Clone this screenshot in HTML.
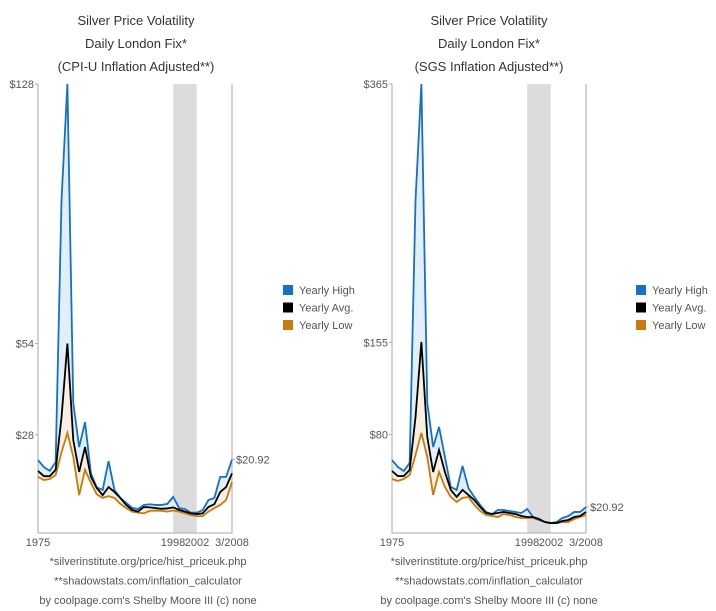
<!DOCTYPE html>
<html><head><meta charset="utf-8"><style>
body{margin:0;background:#fff;width:716px;height:611px;overflow:hidden}
svg{display:block;font-family:"Liberation Sans",sans-serif}
</style></head><body>
<svg id="c" width="716" height="611"></svg>
<script>
const years = [];
for (let y = 1975; y <= 2008; y++) years.push(y);
const cpiHigh = [20.8,18.8,17.7,20.2,95,128,37,24.5,31.6,17,13,12.3,20.5,12.3,10,8.6,7.2,6.8,8,8.2,8,8,8.3,10.3,7.1,6.8,5.8,5.8,6.5,9.4,10,16,16,20.92];
const cpiAvg = [17.7,16.2,16.2,18,33,54,26.5,17.4,24.5,16,12.8,10.8,13.1,11.7,10,8,6.6,6.1,7.4,7.3,7.1,6.9,7,7.3,6.6,6.1,5.6,5.4,5.6,7.4,8.2,11.7,13.1,17];
const cpiLow = [16,15.1,15.4,16.5,23,28.5,21.7,10.8,18,14.3,11,10,10.5,10,8.3,7.1,6.1,5.8,5.6,6.3,6.4,6.3,6.1,6.4,6.1,5.6,5.1,4.8,4.8,6.1,7.1,8,9.4,14.5];
const sgsHigh = [59.3,53.7,50.4,56.9,270.7,365,105.7,69.9,86.2,61.8,37.4,35,54.5,36.6,29.3,22.8,17.1,15.4,18.7,18.7,17.9,17.1,16.3,19.5,13,10.6,8.9,8.1,8.9,12.2,13.8,17.1,17.1,21.1];
const sgsAvg = [50.4,46.3,46.3,51.2,94.3,155.3,78,49.6,67.5,49.6,35,29.3,35,30.9,26.8,21.1,16.3,15.4,16.3,17.1,16.3,15.4,13.8,13,13,11.4,8.9,8.1,8.1,9.8,10.6,13,13.8,17.1];
const sgsLow = [43.9,42.3,43.9,47.2,63.4,81.3,61.8,30.9,49.6,37.4,29.3,25.2,28.5,29.3,22.8,17.9,14.6,13.8,13,15.4,14.6,13,12.2,12.2,12.2,10.6,8.9,8.1,8.1,8.9,8.9,11.4,13,14.6];
const cpiTicks = [128,54,28];
const sgsTicks = [365,155,80];
const cpiMax = 128, sgsMax = 365;
const xLabels = ["1975","1998","2002","3/2008"];
const xLabelYears = [1975,1998,2002,2008];
const shadeYears = [1998,2002];
const lastLabel = "$20.92";
const legendNames = ["Yearly High","Yearly Avg.","Yearly Low"];
const legendColors = ["#1570c8","#000000","#c87a0a"];
const footers = ["*silverinstitute.org/price/hist_priceuk.php","**shadowstats.com/inflation_calculator","by coolpage.com's Shelby Moore III (c) none"];

const NS = "http://www.w3.org/2000/svg";
const svg = document.getElementById('c');
function mk(tag, attrs, parent, text){
  const e = document.createElementNS(NS, tag);
  for (const k in attrs) e.setAttribute(k, attrs[k]);
  if (text !== undefined) e.textContent = text;
  (parent || svg).appendChild(e);
  return e;
}

function chart(cfg){
  const g = mk('g', {});
  
  
  const x0 = cfg.x0, x1 = x0 + 194, yT = 84, yB = 533;
  const xs = y => x0 + (y - 1975) * (x1 - x0) / (2008 - 1975);
  const ys = v => yB - v * (yB - yT) / cfg.max;
  // titles
  cfg.title.forEach((t, i) => {
    const e = mk('text', {x: cfg.tc, y: 25 + i * 23, 'text-anchor': 'middle', 'font-size': 13, fill: '#333'}, g, t);
    
    
  });
  // shade
  const sh = mk('rect', {x: xs(shadeYears[0]), y: yT, width: xs(shadeYears[1]) - xs(shadeYears[0]), height: yB - yT, fill: '#dcdcdc'}, g);
  
  
  // fills
  const pts = arr => arr.map((v, i) => xs(years[i]).toFixed(2) + ',' + ys(v).toFixed(2));
  const band = (a, b, col, nm) => {
    const p = pts(a).concat(pts(b).reverse());
    const e = mk('polygon', {points: p.join(' '), fill: col}, g);
    
    
  };
  band(cfg.high, cfg.avg, '#e2eff9', 'high-avg-band');
  band(cfg.avg, cfg.low, '#f8eee2', 'avg-low-band');
  // axes
  const ax = mk('path', {d: `M${x0},${yT}V${yB}H${x1}V${yT}`, fill: 'none', stroke: '#aaa', 'stroke-width': 1}, g);
  
  
  cfg.ticks.forEach(t => {
    const y = ys(t);
    mk('line', {x1: x0 - 3, x2: x0, y1: y, y2: y, stroke: '#aaa'}, g);
    const e = mk('text', {x: x0 - 4, y: y + 4, 'text-anchor': 'end', 'font-size': 11, fill: '#555'}, g, '$' + t);
    
    
  });
  xLabels.forEach((l, i) => {
    let anchor = 'middle';
    if (l === '1998') anchor = 'end';
    if (l === '2002') anchor = 'start';
    const xx = l === '1998' ? xs(xLabelYears[i]) + 12 : (l === '2002' ? xs(xLabelYears[i]) - 12 : xs(xLabelYears[i]));
    const e = mk('text', {x: xx, y: 546, 'text-anchor': anchor, 'font-size': 11, fill: '#555'}, g, l);
    
    
  });
  // lines
  [[cfg.low, legendColors[2], 'low-line'], [cfg.high, legendColors[0], 'high-line'], [cfg.avg, legendColors[1], 'avg-line']].forEach(([a, c, n]) => {
    const e = mk('polyline', {points: pts(a).join(' '), fill: 'none', stroke: c, 'stroke-width': 1.8, 'stroke-linejoin': 'miter'}, g);
    
    
  });
  const lv = cfg.high[cfg.high.length - 1];
  mk('line', {x1: x1, x2: x1 + 3, y1: ys(lv), y2: ys(lv), stroke: '#aaa'}, g);
  const ll = mk('text', {x: x1 + 4, y: ys(lv) + 4, 'font-size': 11, fill: '#555'}, g, lastLabel);
  
  
  // legend
  legendNames.forEach((n, i) => {
    const r = mk('rect', {x: cfg.lx, y: 285 + i * 17.5, width: 10, height: 10, fill: legendColors[i]}, g);
    
    
    const t = mk('text', {x: cfg.lx + 16, y: 294 + i * 17.5, 'font-size': 11, fill: '#555'}, g, n);
    
    
  });
  footers.forEach((f, i) => {
    const e = mk('text', {x: cfg.fc, y: 565 + i * 19.5, 'text-anchor': 'middle', 'font-size': 11, fill: '#555'}, g, f);
    
    
  });
}
chart({name: 'cpi-chart', x0: 38, max: cpiMax, ticks: cpiTicks, high: cpiHigh, avg: cpiAvg, low: cpiLow,
  title: ['Silver Price Volatility', 'Daily London Fix*', '(CPI-U Inflation Adjusted**)'], tc: 136, lx: 283, fc: 148});
chart({name: 'sgs-chart', x0: 392, max: sgsMax, ticks: sgsTicks, high: sgsHigh, avg: sgsAvg, low: sgsLow,
  title: ['Silver Price Volatility', 'Daily London Fix*', '(SGS Inflation Adjusted**)'], tc: 489, lx: 636, fc: 489});
</script>
</body></html>
